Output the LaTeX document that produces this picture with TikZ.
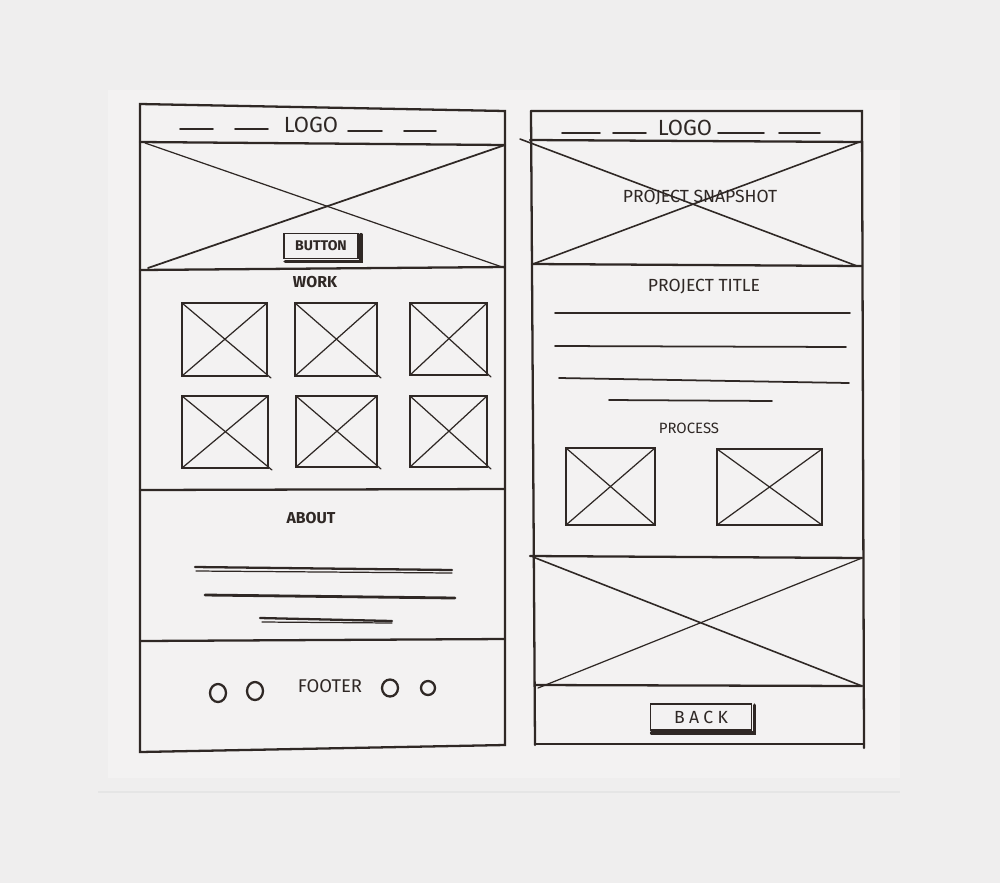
\documentclass[tikz,border=0pt]{standalone}
\usepackage{fontspec}
\setmainfont{Fira Sans}
\usetikzlibrary{
calc
}
\definecolor{backdrop}{HTML}{EFEEEE}
\definecolor{paper}{HTML}{F3F2F2}
\definecolor{ink}{HTML}{2F2825}

\begin{document}
\begin{tikzpicture}[
        x=0.02cm,
        y=-0.02cm,
        ink line/.style={
          draw=ink,
          line width=1.3pt,
          line cap=round,
        },
        thin ink/.style={
          draw=ink,
          line width=0.7pt,
          line cap=round,
        },
        hand label/.style={
          text=ink,
          inner sep=0pt,
          font=\fontsize{9}{11}\selectfont,
        },
        big label/.style={
          hand label,
          font=\fontsize{12.5}{14}\selectfont,
        },
        button box/.style={
          draw=ink,
          line width=1.1pt,
          inner sep=0pt,
          text=ink,
          minimum width=1.48cm,
          minimum height=0.5cm,
        },
        ]
        % backdrop and sheet of paper
        \fill [backdrop] (0,0) rectangle (1000,883);
        \useasboundingbox (0,0) rectangle (1000,883);
        \fill [paper] (108,90) rectangle (900,778);
        \draw [draw=black!10, line width=0.6pt] (98,792) -- (900,792);

        % ---- home page ----
        \draw [ink line] (140,104) -- (505,111) -- (505,745) -- (140,752) -- cycle;
        \draw [ink line] (140,142) -- (505,145);
        \draw [ink line] (140,270) -- (505,267);
        \draw [ink line] (140,490) -- (505,489);
        \draw [ink line] (140,641) -- (505,639);
        \draw [thin ink] (145,143) -- (505,268);
        \draw [ink line, line width=1pt] (148,268) -- (505,145);

        \node [big label] (logo-home) at (311,125) {LOGO};
        \draw [ink line, line width=1pt] (180,129) -- (213,129) (235,129) -- (268,129);
        \draw [ink line, line width=1pt] (348,131) -- (382,131) (404,131) -- (436,131);

        \node [button box, font=\fontsize{8}{10}\bfseries\selectfont] (button-hero) at (321,246) {BUTTON};
        \draw [ink line, line width=1.8pt] ($(button-hero.south west)+(2,2)$) -- ($(button-hero.south east)+(2,2)$) -- ($(button-hero.north east)+(2,2)$);

        \node [hand label, font=\fontsize{9}{11}\bfseries\selectfont] (work-title) at (315,282) {WORK};
        \foreach \xa/\ya/\xb/\yb in {182/303/267/376, 295/303/377/376, 410/303/487/375,
                                     182/396/268/468, 296/396/377/467, 410/396/487/467}{
          \draw [ink line] (\xa,\ya) rectangle (\xb,\yb);
          \draw [thin ink] (\xa,\ya) -- ($(\xb,\yb)+(4,2)$);
          \draw [thin ink] (\xa,\yb) -- (\xb,\ya);
        }

        \node [hand label, font=\fontsize{9}{11}\bfseries\selectfont] (about-title) at (311,518) {ABOUT};
        \draw [ink line] (195,567) -- (452,570);
        \draw [thin ink] (196,571) -- (452,573);
        \draw [ink line, line width=1.6pt] (205,595) -- (455,598);
        \draw [ink line] (260,618) -- (392,621);
        \draw [thin ink] (262,622) -- (392,623);

        \node [hand label, font=\fontsize{10.5}{12}\selectfont] (footer-title) at (330,686) {FOOTER};
        \draw [ink line] (218,693) ellipse [x radius=8, y radius=9];
        \draw [ink line] (255,691) ellipse [x radius=8, y radius=9];
        \draw [ink line] (390,688) ellipse [x radius=8, y radius=8.5];
        \draw [ink line] (428,688) ellipse [x radius=7, y radius=7];

        % ---- project page ----
        \draw [ink line] (531,111) -- (862,111) -- (864,748);
        \draw [ink line] (531,111) -- (535,745);
        \draw [ink line] (535,744) -- (864,744);
        \draw [ink line] (530,140) -- (862,142);
        \draw [ink line] (532,264) -- (862,266);
        \draw [ink line] (530,556) -- (862,558);
        \draw [ink line] (535,685) -- (862,686);
        \draw [ink line, line width=0.9pt] (520,139) -- (857,266);
        \draw [ink line, line width=0.9pt] (533,264) -- (862,141);
        \draw [ink line, line width=0.9pt] (533,557) -- (862,686);
        \draw [thin ink] (862,558) -- (538,688);

        \node [big label] (logo-project) at (685,128) {LOGO};
        \draw [ink line, line width=1pt] (562,133) -- (600,133) (613,133) -- (646,133);
        \draw [ink line, line width=1pt] (718,133) -- (764,133) (779,133) -- (820,133);

        \node [hand label, font=\fontsize{10}{12}\selectfont] (snapshot-title) at (700,198) {PROJECT SNAPSHOT};
        \node [hand label, font=\fontsize{10}{12}\selectfont] (project-title) at (704,287) {PROJECT TITLE};
        \draw [ink line, line width=1pt] (555,313) -- (850,313);
        \draw [ink line, line width=1pt] (555,346) -- (846,347);
        \draw [ink line, line width=1pt] (559,378) -- (849,383);
        \draw [ink line, line width=1pt] (609,400) -- (772,401);

        \node [hand label, font=\fontsize{8.5}{10}\selectfont] (process-title) at (689,428) {PROCESS};
        \foreach \xa/\ya/\xb/\yb in {566/448/655/525, 717/449/822/525}{
          \draw [ink line] (\xa,\ya) rectangle (\xb,\yb);
          \draw [thin ink] (\xa,\ya) -- (\xb,\yb);
          \draw [thin ink] (\xa,\yb) -- (\xb,\ya);
        }

        \node [button box, minimum width=2.02cm, minimum height=0.52cm,
               font=\fontsize{10}{12}\selectfont\addfontfeatures{LetterSpace=25}] (button-back) at (701,717) {BACK};
        \draw [ink line, line width=1.8pt] ($(button-back.south west)+(2,2)$) -- ($(button-back.south east)+(2,2)$) -- ($(button-back.north east)+(2,2)$);
      \end{tikzpicture}
\end{document}
